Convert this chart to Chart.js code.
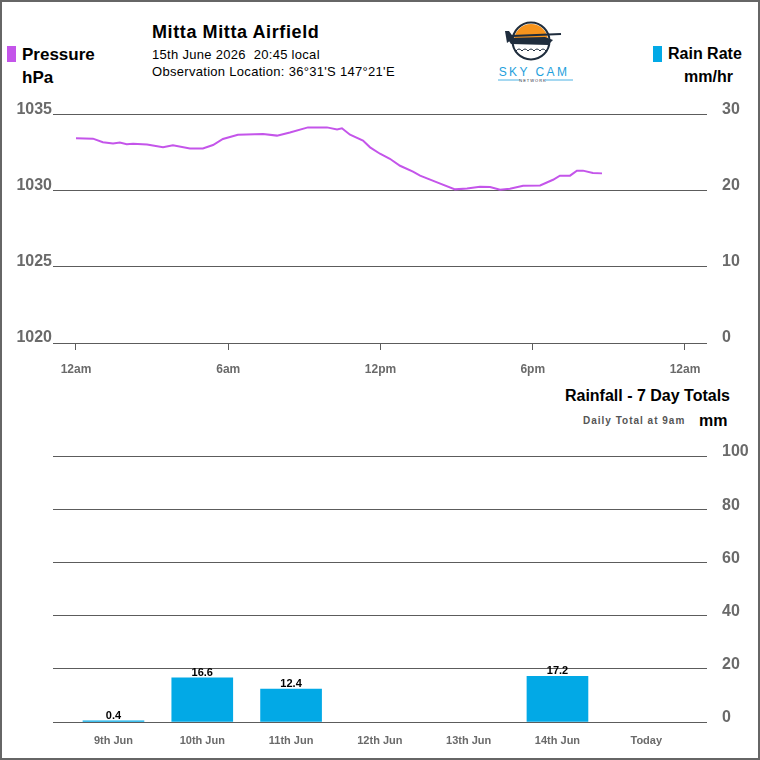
<!DOCTYPE html>
<html>
<head>
<meta charset="utf-8">
<script src="https://cdn.jsdelivr.net/npm/chart.js@4.4.1/dist/chart.umd.min.js"></script>
<style>
  body { margin: 0; background: #fff; }
  #frame { position: relative; width: 760px; height: 760px; box-sizing: border-box; border: 2px solid #666; overflow: hidden; font-family: 'Liberation Sans', Arial, sans-serif; }
  .txt { position: absolute; white-space: pre; line-height: 1; color: #000; }
  .sq { position: absolute; width: 9px; height: 16px; }
  canvas { position: absolute; left: -2px; }
</style>
</head>
<body>
<div id="frame">
  <div class="sq" style="left:5px;top:44px;background:#c455ea"></div>
  <div class="txt" style="left:20px;top:44px;font-size:17px;font-weight:bold">Pressure</div>
  <div class="txt" style="left:20px;top:67px;font-size:17px;font-weight:bold">hPa</div>

  <div class="txt" style="left:150px;top:21px;font-size:18px;font-weight:bold;letter-spacing:0.6px">Mitta Mitta Airfield</div>
  <div class="txt" style="left:150px;top:46px;font-size:13px;letter-spacing:0.3px">15th June 2026  20:45 local</div>
  <div class="txt" style="left:150px;top:63px;font-size:13px;letter-spacing:0.3px">Observation Location: 36°31'S 147°21'E</div>

  <svg style="position:absolute;left:488px;top:16px" width="90" height="66" viewBox="0 0 90 66">
    <defs><clipPath id="sun"><circle cx="41" cy="23" r="17"/></clipPath></defs>
    <rect x="20" y="4" width="44" height="18" fill="#f7941d" clip-path="url(#sun)"/>
    <circle cx="41" cy="23" r="18.5" fill="none" stroke="#1f2d3d" stroke-width="2"/>
    <polygon points="15,13 19,13 24,20 17,25" fill="#1f2d3d"/>
    <line x1="22" y1="18" x2="71" y2="16" stroke="#1f2d3d" stroke-width="2"/>
    <polygon points="17,20 55,19 63,22 58,27 21,26" fill="#1f2d3d"/>
    <path d="M26 33 q3 -4 6 0 q3 -4 6 0 q3 -4 6 0 q3 -4 6 0 q3 -4 6 0" stroke="#1f2d3d" stroke-width="1" fill="none"/>
    <text x="44" y="58" text-anchor="middle" font-size="12" fill="#1ea0dc" letter-spacing="2.4" font-family="Liberation Sans, Arial, sans-serif">SKY CAM</text>
    <line x1="8" y1="62" x2="30" y2="62" stroke="#1ea0dc" stroke-width="0.8"/>
    <line x1="55" y1="62" x2="83" y2="62" stroke="#1ea0dc" stroke-width="0.8"/>
    <text x="43" y="64" text-anchor="middle" font-size="4" fill="#1f2d3d" letter-spacing="1" font-family="Liberation Sans, Arial, sans-serif">NETWORK</text>
  </svg>

  <div class="sq" style="left:651px;top:44px;background:#02a9e6"></div>
  <div class="txt" style="left:666px;top:44px;font-size:16px;font-weight:bold">Rain Rate</div>
  <div class="txt" style="left:682px;top:67px;font-size:16px;font-weight:bold">mm/hr</div>

  <div class="txt" style="right:28px;top:386px;font-size:16px;font-weight:bold">Rainfall - 7 Day Totals</div>
  <div class="txt" style="left:581px;top:414px;font-size:10px;font-weight:bold;color:#555;letter-spacing:1px">Daily Total at 9am</div>
  <div class="txt" style="left:697px;top:411px;font-size:16px;font-weight:bold">mm</div>

  <canvas id="pressureChart" width="760" height="301" style="top:88px"></canvas>
  <canvas id="rainChart" width="760" height="330" style="top:428px"></canvas>
</div>

<script>
// pressure trace for today (hours since midnight, hPa)
var pressureHours = [0, 0.67, 1.06, 1.46, 1.73, 2.0, 2.25, 2.8, 3.43, 3.82, 4.49, 5.0, 5.4, 5.79, 6.38, 7.37, 7.92, 8.43, 9.14, 9.89, 10.29, 10.48, 10.8, 11.31, 11.59, 11.98, 12.37, 12.77, 13.28, 13.56, 14.23, 14.94, 15.41, 15.92, 16.32, 16.71, 17.1, 17.62, 18.29, 18.8, 19.07, 19.47, 19.74, 19.98, 20.37, 20.73];
var pressure = [1033.44, 1033.42, 1033.18, 1033.11, 1033.16, 1033.05, 1033.09, 1033.03, 1032.85, 1032.98, 1032.78, 1032.78, 1033.0, 1033.4, 1033.68, 1033.73, 1033.62, 1033.82, 1034.16, 1034.16, 1034.03, 1034.1, 1033.68, 1033.29, 1032.85, 1032.43, 1032.1, 1031.64, 1031.25, 1030.99, 1030.55, 1030.09, 1030.15, 1030.26, 1030.24, 1030.07, 1030.13, 1030.33, 1030.35, 1030.72, 1030.99, 1030.99, 1031.32, 1031.32, 1031.16, 1031.14];
var rainRate = [];
var tickHours = [0, 6, 12, 18, 24];
var hourLabels = ['12am', '6am', '12pm', '6pm', '12am'];

// rainfall 7 day totals
var days = ['9th Jun', '10th Jun', '11th Jun', '12th Jun', '13th Jun', '14th Jun', 'Today'];
var rainfall = [0.4, 16.6, 12.4, 0, 0, 17.2, 0];

var fontFamily = "'Liberation Sans', Arial, sans-serif";
var gridColor = '#5c5c5c';
var labelColor = '#6a6a6a';
var yFont = { family: fontFamily, size: 16, weight: 'bold' };
var xFont = { family: fontFamily, size: 12, weight: 'bold' };

function fixWidth(w) { return function(scale) { scale.width = w; }; }
function fixHeight(h) { return function(scale) { scale.height = h; }; }

var ctx = document.getElementById('pressureChart');
var pressureChart = new Chart(ctx, {
    type: 'line',
    data: {
        datasets: [{
            label: 'Pressure',
            data: pressureHours.map(function(h, i) { return { x: h, y: pressure[i] }; }),
            borderColor: '#c455ea',
            borderWidth: 2,
            pointRadius: 0,
            tension: 0,
            yAxisID: 'y'
        }, {
            label: 'Rain Rate',
            data: rainRate,
            borderColor: '#02a9e6',
            pointRadius: 0,
            yAxisID: 'y1'
        }]
    },
    options: {
        responsive: false,
        animation: false,
        layout: { padding: { top: 16, left: 0, right: 0, bottom: 0 } },
        plugins: { legend: { display: false }, tooltip: { enabled: false } },
        scales: {
            x: {
                type: 'linear',
                min: -0.906,
                max: 24.867,
                afterBuildTicks: function(scale) {
                    scale.ticks = tickHours.map(function(h) { return { value: h }; });
                },
                afterFit: fixHeight(48),
                grid: { drawOnChartArea: false, drawTicks: true, tickLength: 7, color: gridColor },
                border: { display: false },
                ticks: {
                    padding: 12,
                    maxRotation: 0,
                    color: labelColor,
                    font: xFont,
                    callback: function(value, index) { return hourLabels[index]; }
                }
            },
            y: {
                position: 'left',
                min: 1020,
                max: 1035,
                afterFit: fixWidth(53),
                grid: { color: gridColor, drawTicks: false },
                border: { display: false },
                ticks: {
                    stepSize: 5,
                    padding: 1,
                    labelOffset: -5,
                    color: labelColor,
                    font: yFont,
                    callback: function(value) { return String(value); }
                }
            },
            y1: {
                position: 'right',
                min: 0,
                max: 30,
                afterFit: fixWidth(53),
                grid: { drawOnChartArea: false, drawTicks: false },
                border: { display: false },
                ticks: {
                    stepSize: 10,
                    padding: 15,
                    labelOffset: -5,
                    color: labelColor,
                    font: yFont
                }
            }
        }
    }
});

// numbers above the rainfall bars
var barValues = {
    id: 'barValues',
    afterDatasetsDraw: function(chart) {
        var c = chart.ctx;
        var meta = chart.getDatasetMeta(0);
        c.save();
        c.font = 'bold 11px ' + fontFamily;
        c.fillStyle = '#000';
        c.textAlign = 'center';
        c.textBaseline = 'alphabetic';
        meta.data.forEach(function(bar, i) {
            if (rainfall[i] > 0) {
                c.fillText(rainfall[i].toFixed(1), bar.x, bar.y - 2);
            }
        });
        c.restore();
    }
};

var rain = document.getElementById('rainChart');
var rainChart = new Chart(rain, {
    type: 'bar',
    data: {
        datasets: [{
            label: 'Rainfall',
            data: rainfall.map(function(v, i) { return { x: i, y: v > 0 ? v : null }; }),
            backgroundColor: '#02a9e6',
            barThickness: 61
        }]
    },
    options: {
        responsive: false,
        animation: false,
        layout: { padding: { top: 26, left: 53, right: 0, bottom: 0 } },
        plugins: { legend: { display: false }, tooltip: { enabled: false } },
        scales: {
            x: {
                type: 'linear',
                min: -0.681,
                max: 6.684,
                offset: false,
                afterBuildTicks: function(scale) {
                    scale.ticks = days.map(function(d, i) { return { value: i }; });
                },
                afterFit: fixHeight(38),
                grid: { display: false, drawTicks: false },
                border: { display: false },
                ticks: {
                    padding: 12,
                    maxRotation: 0,
                    autoSkip: false,
                    color: labelColor,
                    font: { family: fontFamily, size: 11, weight: 'bold' },
                    callback: function(value, index) { return days[index]; }
                }
            },
            y: {
                position: 'right',
                min: 0,
                max: 100,
                afterFit: fixWidth(53),
                grid: { color: gridColor, drawTicks: false },
                border: { display: false },
                ticks: {
                    stepSize: 20,
                    padding: 15,
                    labelOffset: -4,
                    color: labelColor,
                    font: yFont
                }
            }
        }
    },
    plugins: [barValues]
});
</script>
</body>
</html>
